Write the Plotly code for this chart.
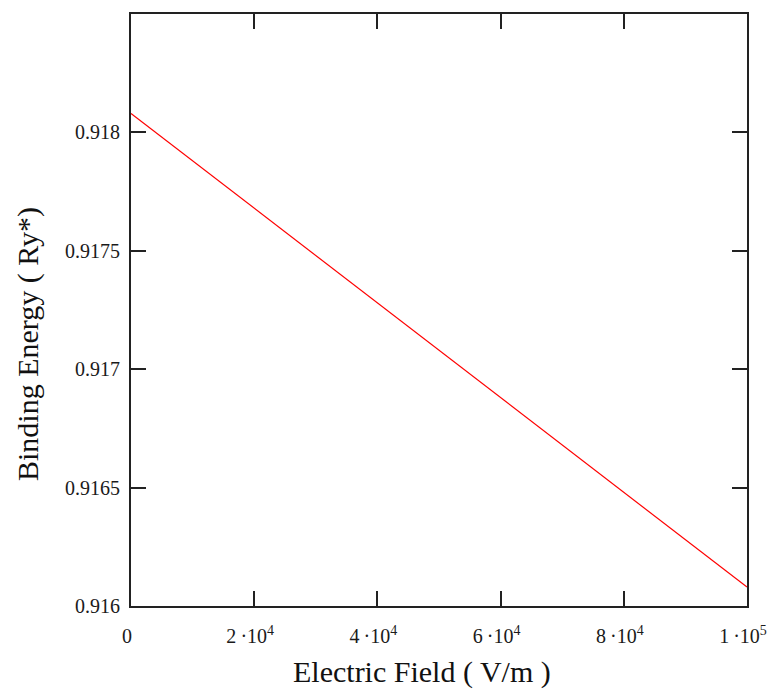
import plotly.graph_objects as go

# Binding energy of the bound state versus applied electric field
field = [0, 20000, 40000, 60000, 80000, 100000]            # V/m
energy = [0.91808, 0.91768, 0.91728, 0.91688, 0.91648, 0.91608]  # Ry*

x_ticks = [0, 20000, 40000, 60000, 80000, 100000]
x_mantissa = ["0", "2", "4", "6", "8", "1"]
x_exponent = [None, 4, 4, 4, 4, 5]
y_ticks = [0.916, 0.9165, 0.917, 0.9175, 0.918]
y_tick_text = ["0.916", "0.9165", "0.917", "0.9175", "0.918"]

x_title = "Electric Field ( V/m )"
y_title = "Binding Energy ( Ry*)"

serif = "Liberation Serif"


def sci_label(m, e):
    """Mantissa · 10^exponent written with a raised exponent."""
    if e is None:
        return m
    return f"{m}\u2009·10<sup>{e}</sup>"


x_tick_text = [sci_label(m, e) for m, e in zip(x_mantissa, x_exponent)]

fig = go.Figure(go.Scatter(
    x=field, y=energy, mode="lines",
    line=dict(color="#ff0000", width=1.2),
    hoverinfo="x+y",
))

axis_common = dict(
    showline=True, linecolor="#222222", linewidth=2,
    mirror="ticks", ticks="inside", ticklen=15, tickwidth=2, tickcolor="#222222",
    showgrid=False, zeroline=False, automargin=False,
    tickfont=dict(family=serif, size=20, color="#1a1a1a"),
)

fig.update_layout(
    width=769, height=692,
    margin=dict(l=131, r=22, t=14, b=86, autoexpand=False),
    plot_bgcolor="white", paper_bgcolor="white",
    showlegend=False,
    font=dict(family=serif),
    xaxis=dict(range=[0, 100000], tickmode="array", tickvals=x_ticks,
               ticktext=x_tick_text, ticklabelstandoff=11, ticklabelshift=-4,
               ticklabeloverflow="allow", **axis_common),
    yaxis=dict(range=[0.916, 0.9185], tickmode="array", tickvals=y_ticks,
               ticktext=y_tick_text, ticklabelstandoff=5, **axis_common),
    annotations=[
        dict(text=x_title, xref="paper", yref="paper", x=0.4724, y=-0.1115,
             xanchor="center", yanchor="middle", showarrow=False,
             font=dict(family=serif, size=30, color="#111111")),
        dict(text=y_title, xref="paper", yref="paper", x=-0.1672, y=0.4426,
             xanchor="center", yanchor="middle", textangle=-90, showarrow=False,
             font=dict(family=serif, size=30, color="#111111")),
    ],
)

fig.write_html("out.html")
